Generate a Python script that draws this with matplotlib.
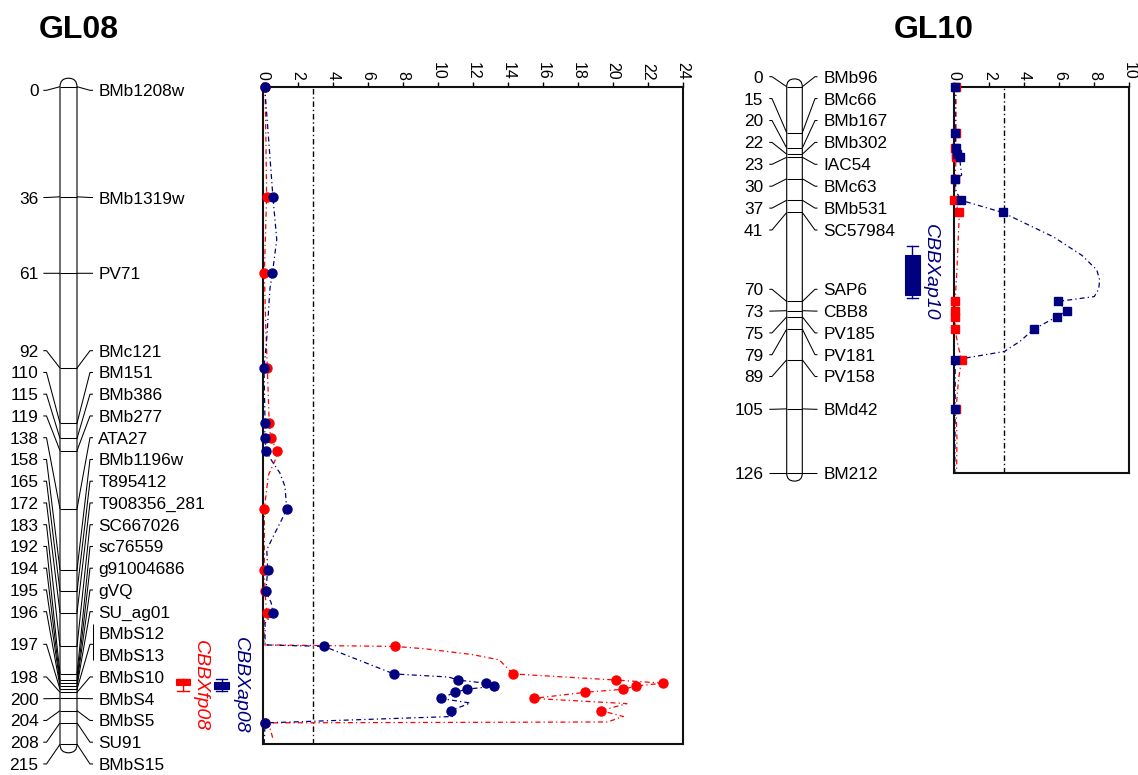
import numpy as np
import matplotlib.pyplot as plt
from matplotlib.patches import FancyBboxPatch, Rectangle
from matplotlib.transforms import blended_transform_factory

plt.rcParams['font.family'] = ['Liberation Sans', 'DejaVu Sans']

# ---------------- data ----------------
# GL08 linkage group
gl08_cm = [0, 36, 61, 92, 110, 115, 119, 138, 158, 165, 172, 183, 192, 194,
           195, 196, 197, 197, 198, 200, 204, 208, 215]
gl08_names = ['BMb1208w', 'BMb1319w', 'PV71', 'BMc121', 'BM151', 'BMb386',
              'BMb277', 'ATA27', 'BMb1196w', 'T895412', 'T908356_281',
              'SC667026', 'sc76559', 'g91004686', 'gVQ', 'SU_ag01', 'BMbS12',
              'BMbS13', 'BMbS10', 'BMbS4', 'BMbS5', 'SU91', 'BMbS15']

# LOD at the markers (dots)
gl08_dot_cm = [0, 36, 61, 92, 110, 115, 119, 138, 158, 165, 172, 183, 192,
               194, 195, 196, 197, 198, 200, 204, 208]
ap08_dot = [0.08, 0.55, 0.52, 0.04, 0.10, 0.08, 0.17, 1.34, 0.25, 0.15, 0.55,
            3.47, 7.48, 11.14, 12.72, 13.2, 11.64, 10.97, 10.15, 10.74, 0.10]
fp08_dot = [0.10, 0.19, 0.06, 0.23, 0.34, 0.42, 0.80, 0.06, 0.06, 0.10, 0.19,
            7.55, 14.3, 20.2, 22.85, 21.3, 20.6, 18.42, 15.47, 19.32, 0.10]

# LOD profiles
ap08_curve_cm = [0, 36, 50, 61, 66, 83, 92, 110, 115, 119, 121.4, 126.3,
                 130.7, 138, 141.6, 147, 151.4, 158, 165, 168.7, 172, 175.4,
                 182.5, 183, 192, 193, 194, 195, 196, 197, 198, 200, 201.5,
                 204, 205.9, 208, 215]
ap08_curve = [0.08, 0.55, 0.77, 0.52, 0.38, 0.19, 0.04, 0.10, 0.08, 0.17,
              0.38, 0.95, 1.24, 1.34, 1.05, 0.57, 0.20, 0.25, 0.15, 0.45,
              0.55, 0.10, 0.10, 3.47, 7.48, 10.6, 11.14, 12.72, 13.2, 11.64,
              10.97, 10.15, 11.84, 10.74, 10.87, 0.10, 0.05]
fp08_curve_cm = [0, 18, 36, 61, 80, 92, 110, 115, 119, 121.5, 127, 138, 158,
                 165, 172, 175, 182.5, 183, 183.8, 185.7, 187.4, 192, 194,
                 195, 196, 197, 198, 200, 201.7, 204, 205.9, 207.7, 208,
                 209.7, 213.5]
fp08_curve = [0.10, 0.15, 0.19, 0.06, 0.15, 0.23, 0.34, 0.42, 0.80, 0.73,
              0.29, 0.06, 0.06, 0.10, 0.19, 0.05, 0.05, 7.55, 9.3, 12.0, 13.5,
              14.3, 20.2, 22.85, 21.3, 20.6, 18.42, 15.47, 20.8, 19.32, 20.6,
              19.7, 0.10, 0.38, 0.57]

# GL10 linkage group
gl10_cm = [0, 15, 20, 22, 23, 30, 37, 41, 70, 73, 75, 79, 89, 105, 126]
gl10_names = ['BMb96', 'BMc66', 'BMb167', 'BMb302', 'IAC54', 'BMc63',
              'BMb531', 'SC57984', 'SAP6', 'CBB8', 'PV185', 'PV181', 'PV158',
              'BMd42', 'BM212']

gl10_dot_cm = [0, 15, 20, 22, 23, 30, 37, 41, 70, 73, 75, 79, 89, 105]
ap10_dot = [0.05, 0.05, 0.10, 0.15, 0.30, 0.05, 0.37, 2.76, 5.9, 6.45, 5.85,
            4.55, 0.05, 0.05]
fp10_dot = [0.10, 0.10, 0.05, 0.10, 0.10, 0.05, 0.0, 0.29, 0.04, 0.04, 0.04,
            0.04, 0.42, 0.10]

ap10_curve_cm = [0, 15, 20, 22, 23, 28.8, 30, 34, 37, 41, 48.9, 55, 59.7, 63,
                 66, 68.4, 70, 73, 75, 79, 83, 86.3, 89, 105, 126]
ap10_curve = [0.05, 0.05, 0.10, 0.15, 0.30, 0.42, 0.05, 0.10, 0.37, 2.76,
              5.65, 7.3, 8.14, 8.31, 8.25, 8.0, 5.9, 6.45, 5.85, 4.55, 3.75,
              2.86, 0.05, 0.05, 0.03]
fp10_curve_cm = [0, 15, 20, 22, 23, 30, 37, 41, 50, 60, 70, 73, 75, 79, 84,
                 89, 95, 105, 115, 126]
fp10_curve = [0.10, 0.10, 0.05, 0.10, 0.10, 0.05, 0.0, 0.29, 0.22, 0.15,
              0.04, 0.04, 0.04, 0.04, 0.20, 0.42, 0.25, 0.10, 0.15, 0.13]

threshold = 2.85

# QTL intervals (cM): outer = whiskers, inner = box
qtl_fp08 = ('CBBXfp08', (193.7, 197.7), (193.7, 195.5))
qtl_ap08 = ('CBBXap08', (193.7, 197.7), (194.6, 197.0))
qtl_ap10 = ('CBBXap10', (51.8, 68.9), (54.8, 67.9))

RED = '#ff0000'
NAVY = '#000080'

# ---------------- figure ----------------
W, H = 1138, 775
fig = plt.figure(figsize=(W / 100, H / 100), dpi=100)
base = fig.add_axes([0, 0, 1, 1])
base.set_xlim(0, W)
base.set_ylim(H, 0)
base.axis('off')


def px_axes(x0, y0, x1, y1):
    return fig.add_axes([x0 / W, 1 - y1 / H, (x1 - x0) / W, (y1 - y0) / H])


def cm_px(ax, cm):
    pts = np.column_stack([np.zeros(len(cm)), np.asarray(cm, float)])
    disp = ax.transData.transform(pts)
    return base.transData.inverted().transform(disp)[:, 1]


def lod_panel(box, xmax, length, curves, dots, marker, ms):
    ax = px_axes(*box)
    ax.set_xlim(0, xmax)
    ax.set_ylim(length, 0)
    ax.xaxis.tick_top()
    ax.set_xticks(range(0, xmax + 1, 2))
    ax.set_yticks([])
    ax.tick_params(axis='x', direction='out', length=3.6, width=1, pad=1.2,
                   labelsize=11.5, labelrotation=-90)
    for s in ax.spines.values():
        s.set_linewidth(1.5)
        s.set_color('#111111')
    ax.axvline(threshold, color='black', lw=1.0, dashes=(4, 2, 1, 2))
    for (cx, cy, col) in curves:
        ax.plot(cy, cx, color=col, lw=0.9, dashes=(4, 2.5, 1, 2.5))
    for (cx, cy, col) in dots:
        ax.plot(cy, cx, ls='none', marker=marker, ms=ms, color=col,
                clip_on=False, zorder=5)
    return ax


def chrom_map(ax, cms, names, label_y, length, x0, w, num_x, lconn, rconn,
              name_x):
    top, bot = cm_px(ax, [0, length])
    r = w / 2
    base.add_patch(FancyBboxPatch((x0, top - r), w, bot - top + 2 * r,
                                  boxstyle=f"round,pad=0,rounding_size={r}",
                                  fc='white', ec='black', lw=0.8))
    my = cm_px(ax, cms)
    x1 = x0 + w
    kw = dict(color='black', lw=0.75, solid_capstyle='butt')
    for m in my:
        base.plot([x0, x1], [m, m], **kw)
    # names on the right, duplicate positions bracketed
    done = set()
    for i, (c, n, ly) in enumerate(zip(cms, names, label_y)):
        base.text(name_x, ly, n, fontsize=12.4, ha='left',
                  va='center_baseline')
        if c in done:
            continue
        done.add(c)
        grp = [label_y[j] for j in range(len(cms)) if cms[j] == c]
        gy = np.mean(grp)
        base.plot([x1, rconn[0], rconn[1]], [my[i], gy, gy], **kw)
        if len(grp) > 1:
            base.plot([rconn[1], rconn[1]], [grp[0] - 9, grp[-1] + 5], **kw)
        base.text(num_x, gy, f"{c}", fontsize=12.4, ha='right',
                  va='center_baseline')
        base.plot([lconn[0], lconn[1], x0], [gy, gy, my[i]], **kw)


def qtl(ax, q, xc, lx, color):
    label, outer, inner = q
    bt = blended_transform_factory(base.transData, ax.transData)
    bw, cw = 14.5, 11.5
    base.add_patch(Rectangle((xc - bw / 2, inner[0]), bw, inner[1] - inner[0],
                             transform=bt, fc=color, ec=color, lw=0.8))
    base.plot([xc, xc], outer, transform=bt, color=color, lw=1.0)
    for c in outer:
        base.plot([xc - cw / 2, xc + cw / 2], [c, c], transform=bt,
                  color=color, lw=1.0)
    base.text(lx, np.mean(outer), label, transform=bt, rotation=-90,
              fontsize=14, style='italic', color=color, ha='center',
              va='center')


# ---- GL08 ----
ax08 = lod_panel((263.3, 86.7, 682.7, 744.3), 24, 215,
                 [(fp08_curve_cm, fp08_curve, RED),
                  (ap08_curve_cm, ap08_curve, NAVY)],
                 [(gl08_dot_cm, fp08_dot, RED), (gl08_dot_cm, ap08_dot, NAVY)],
                 'o', 6.5)
lab08 = [90.3, 197.5, 273.3] + [350.7 + 21.75 * i for i in range(20)]
chrom_map(ax08, gl08_cm, gl08_names, lab08, 215, 60, 17, 38.5,
          (43.3, 46.5), (90, 93), 98.3)
qtl(ax08, qtl_fp08, 183, 200, RED)
qtl(ax08, qtl_ap08, 221.7, 240.5, NAVY)
base.text(78.5, 27, 'GL08', fontsize=23, fontweight='bold', ha='center',
          va='center_baseline')

# ---- GL10 ----
ax10 = lod_panel((954.3, 86.7, 1129.3, 473.3), 10, 126,
                 [(fp10_curve_cm, fp10_curve, RED),
                  (ap10_curve_cm, ap10_curve, NAVY)],
                 [(gl10_dot_cm, fp10_dot, RED), (gl10_dot_cm, ap10_dot, NAVY)],
                 's', 6)
lab10 = ([76.7 + 21.9 * i for i in range(8)] +
         [289.3 + 21.8 * i for i in range(5)] + [409.3, 473.3])
chrom_map(ax10, gl10_cm, gl10_names, lab10, 126, 786.7, 15.6, 763.3,
          (769.3, 772), (815, 817.5), 823.3)
qtl(ax10, qtl_ap10, 912.5, 930, NAVY)
base.text(934, 27, 'GL10', fontsize=23, fontweight='bold', ha='center',
          va='center_baseline')

base.set_xlim(0, W)
base.set_ylim(H, 0)
fig.savefig('out.png', dpi=100)
